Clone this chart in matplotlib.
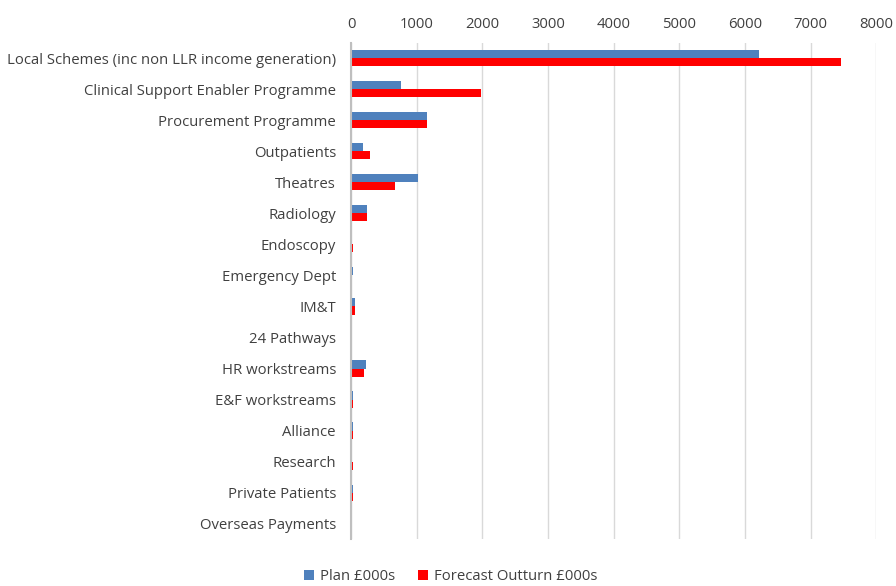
import matplotlib.pyplot as plt
import numpy as np

categories = [
    'Local Schemes (inc non LLR income generation)',
    'Clinical Support Enabler Programme',
    'Procurement Programme',
    'Outpatients',
    'Theatres',
    'Radiology',
    'Endoscopy',
    'Emergency Dept',
    'IM&T',
    '24 Pathways',
    'HR workstreams',
    'E&F workstreams',
    'Alliance',
    'Research',
    'Private Patients',
    'Overseas Payments',
]
plan = [6220, 760, 1160, 180, 1020, 240, 0, 20, 60, 0, 230, 20, 20, 0, 20, 0]
forecast = [7455, 1980, 1160, 290, 670, 240, 30, 0, 60, 0, 200, 20, 20, 20, 20, 0]

plt.rcParams['font.family'] = ['Open Sans', 'DejaVu Sans']

fig = plt.figure(figsize=(8.96, 5.86), dpi=100)
ax = fig.add_axes([0.392, 0.080, 0.586, 0.847])

y = np.arange(len(categories))
h = 0.26
ax.barh(y - h / 2, plan, height=h, color='#4F81BD', label='Plan £000s')
ax.barh(y + h / 2, forecast, height=h, color='#FF0000', label='Forecast Outturn £000s')

ax.set_ylim(len(categories) - 0.5, -0.5)
ax.set_xlim(0, 8000)
ax.set_xticks(range(0, 8001, 1000))
ax.set_yticks(y)
ax.set_yticklabels(categories)
ax.xaxis.tick_top()
ax.tick_params(axis='both', length=0, labelsize=10.7, labelcolor='#404040')
ax.tick_params(axis='x', pad=8)
ax.tick_params(axis='y', pad=11)

ax.grid(axis='x', color='#D9D9D9', linewidth=1)
ax.set_axisbelow(True)
for side in ['top', 'right', 'bottom']:
    ax.spines[side].set_visible(False)
ax.spines['left'].set_color('#BFBFBF')
ax.spines['left'].set_linewidth(1.5)

fig.legend(loc='lower center', ncol=2, bbox_to_anchor=(0.503, -0.02), frameon=False,
           fontsize=10.7, labelcolor='#404040', handlelength=0.7, handleheight=0.7,
           columnspacing=1.5, handletextpad=0.4)

fig.savefig('out.png', dpi=100)
